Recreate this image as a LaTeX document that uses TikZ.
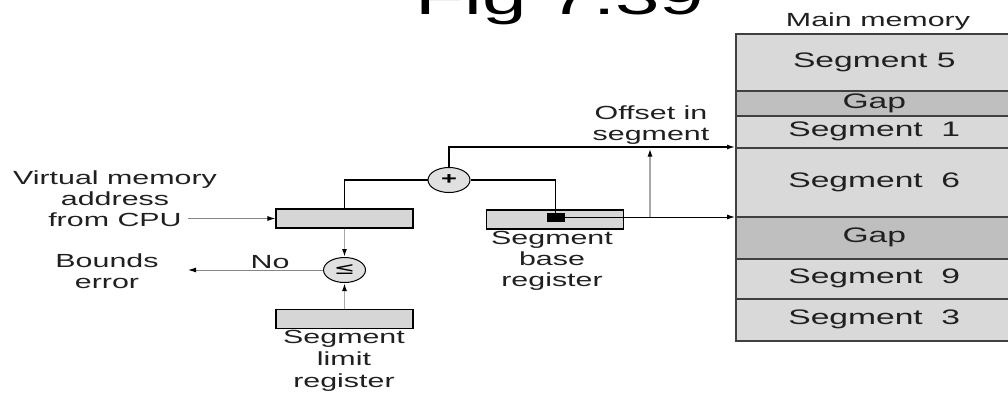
\documentclass[tikz,border=0pt]{standalone}
\usepackage{fontspec}
\setmainfont[FakeStretch=1.6]{Liberation Sans}
\newfontfamily\symfont[FakeStretch=1.5]{DejaVu Sans}
\usetikzlibrary{arrows.meta,shapes.geometric}
\definecolor{txt}{HTML}{202020}
\definecolor{cellfill}{HTML}{D9D9D9}
\definecolor{gapfill}{HTML}{BFBFBF}
\definecolor{cellline}{HTML}{404040}
\definecolor{regfill}{HTML}{D6D6D6}
\definecolor{opfill}{HTML}{E0E0E0}
\definecolor{grayline}{HTML}{A8A8A8}
\newcommand{\lblfont}{\fontsize{19}{21}\selectfont}
\newcommand{\cellfont}{\fontsize{21}{23}\selectfont}
\tikzset{
  lbl/.style={font=\lblfont, align=center, inner sep=0pt, text=txt},
  reg/.style={draw=black, line width=1.2pt, fill=regfill, minimum width=137pt, minimum height=19pt, inner sep=0pt},
  cell/.style={draw=cellline, line width=1.5pt, fill=cellfill, minimum width=277pt, anchor=north west, inner sep=0pt, font=\cellfont, text=txt},
  gapcell/.style={cell, fill=gapfill},
  op/.style={ellipse, draw=black, line width=1pt, fill=opfill, minimum width=42pt, minimum height=25pt, inner sep=0pt},
  blk/.style={draw=black, line width=1.3pt},
  gry/.style={draw=grayline, line width=1.6pt},
  thin/.style={draw=grayline!80!black, line width=1pt},
  tip/.style={-{Latex[length=8pt,width=5pt,color=black]}}
}
\begin{document}
\begin{tikzpicture}[x=1pt,y=-1pt]
\useasboundingbox (0,0) rectangle (1008,392);
% title (its top is cut off by the page edge, as in the reference)
\node[font=\fontsize{50}{60}\selectfont, text=black, anchor=base, inner sep=0pt] (title) at (560,14) {Fig 7.39};
% main memory
\node[lbl] (mmlbl) at (878,22) {Main memory};
\node[cell, minimum height=57pt] (s5) at (735,33) {Segment 5};
\node[gapcell, minimum height=25pt] (g1) at (735,90) {Gap};
\node[cell, minimum height=32pt] (s1) at (735,115) {Segment\ \ 1};
\node[cell, minimum height=69pt] (s6) at (735,147) {Segment\ \ 6};
\node[gapcell, minimum height=42pt] (g2) at (735,216) {Gap};
\node[cell, minimum height=40pt] (s9) at (735,258) {Segment\ \ 9};
\node[cell, minimum height=42pt] (s3) at (735,298) {Segment\ \ 3};
% registers
\node[reg] (va) at (344.5,218.5) {};
\node[reg] (base) at (555,219.5) {};
\node[reg] (lim) at (344.5,319) {};
\node[draw=black, fill=black, minimum width=17pt, minimum height=8pt, inner sep=0pt] (sq) at (555.5,217) {};
% operators
\node[op] (add) at (449,180) {\fontsize{17}{17}\selectfont\bfseries +};
\node[op] (cmp) at (344.5,270) {\symfont\fontsize{17}{17}\selectfont ≤};
% labels
\node[lbl] (vlbl) at (115,199) {Virtual memory\\address\\from CPU};
\node[lbl] (blbl) at (107,271) {Bounds\\error};
\node[lbl] (nolbl) at (270,262) {No};
\node[lbl, font=\fontsize{19}{22}\selectfont] (llbl) at (344,361) {Segment\\limit\\register};
\node[lbl] (bslbl) at (552,261) {Segment\\base\\register};
\node[lbl] (olbl) at (651,125) {Offset in\\segment};
% connectors
\coordinate (cpu) at (188,218.5);
\coordinate (be) at (188,270);
\coordinate (tap) at (650,217);
\draw[blk] (va.north) |- (add.west);
\draw[blk] (sq.north) |- (add.east);
\draw[blk, tip] (add.north) |- (s6.north west);
\draw[blk, line width=1pt, tip] (sq.east) -- (sq.east -| g2.west);
\draw[gry, tip, shorten >=1.5pt] (tap) -- (tap |- s6.north west);
\draw[thin, tip] (cpu) -- (va.west);
\draw[gry, tip] (va.south) -- (cmp.north);
\draw[gry, tip] (lim.north) -- (cmp.south);
\draw[thin, tip] (cmp.west) -- (be);
\end{tikzpicture}
\end{document}
